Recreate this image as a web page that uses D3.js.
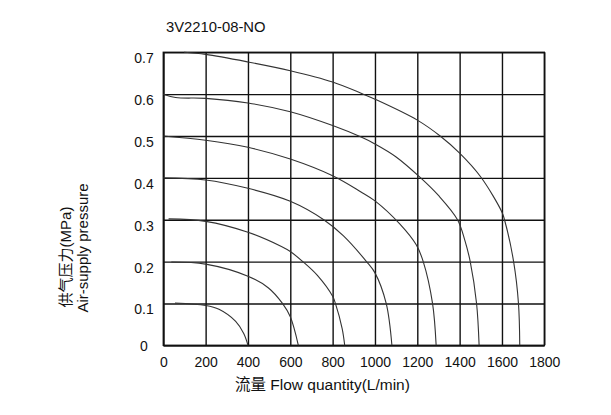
<!DOCTYPE html>
<html>
<head>
<meta charset="utf-8">
<script src="https://cdn.jsdelivr.net/npm/d3@7/dist/d3.min.js"></script>
<style>
  html, body { margin: 0; padding: 0; background: #fff; }
  svg { display: block; font-family: "Liberation Sans", Arial, "Noto Sans CJK SC", sans-serif; }
</style>
</head>
<body>
<svg id="chart" width="611" height="415"></svg>
<script>
// ---- data (flow L/min, supply pressure MPa) ----
const chartTitle = "3V2210-08-NO";
const xTickValues = [0, 200, 400, 600, 800, 1000, 1200, 1400, 1600, 1800];
const yTickValues = [0, 0.1, 0.2, 0.3, 0.4, 0.5, 0.6, 0.7];
const xTitle = "流量 Flow quantity(L/min)";
const yTitleCn = "供气压力(MPa)";
const yTitleEn = "Air-supply pressure";

const curve07 = [[98,0.700],[200,0.695],[400,0.677],[600,0.656],[800,0.629],[940,0.601],[1000,0.588],[1200,0.538],[1308,0.500],[1400,0.459],[1500,0.402],[1600,0.318],[1612,0.300],[1655,0.200],[1678,0.100],[1684,0]];
const curve06 = [[0,0.600],[58,0.592],[200,0.590],[400,0.579],[600,0.558],[800,0.525],[932,0.498],[1000,0.481],[1100,0.450],[1216,0.400],[1300,0.358],[1390,0.300],[1425,0.250],[1450,0.200],[1480,0.100],[1492,0]];
const curve05 = [[0,0.500],[200,0.490],[400,0.473],[600,0.445],[800,0.405],[932,0.367],[1000,0.345],[1117,0.290],[1195,0.240],[1228,0.200],[1272,0.100],[1289,0]];
const curve04 = [[0,0.400],[200,0.395],[400,0.375],[600,0.344],[758,0.300],[850,0.262],[960,0.200],[1000,0.173],[1053,0.100],[1080,0]];
const curve03 = [[25,0.302],[200,0.296],[400,0.270],[558,0.236],[600,0.224],[659,0.200],[728,0.167],[800,0.117],[813,0.100],[845,0.040],[857,0]];
const curve02 = [[38,0.199],[200,0.194],[400,0.165],[497,0.137],[563,0.100],[600,0.068],[638,0]];
const curve01 = [[55,0.101],[200,0.095],[263,0.086],[342,0.057],[380,0.028],[400,0]];
const curves = [curve01, curve02, curve03, curve04, curve05, curve06, curve07];

// ---- layout ----
const mLeft = 163.3, mRight = 544.3, mTop = 52.3, mBottom = 345.3;
const plotW = mRight - mLeft, plotH = mBottom - mTop;

const svg = d3.select("#chart");
svg.append("rect").attr("width", 611).attr("height", 415).attr("fill", "#fff");

const x = d3.scaleLinear().domain([0, 1800]).range([mLeft, mRight]);
const y = d3.scaleLinear().domain([0, 0.7]).range([mBottom, mTop]);

// x grid + labels
const gx = svg.append("g")
  .attr("transform", `translate(0,${mBottom})`)
  .call(d3.axisBottom(x).tickValues(xTickValues).tickSize(-plotH).tickSizeOuter(0).tickPadding(11.8).tickFormat(d3.format("d")));
gx.attr("font-family", null).attr("font-size", null);
gx.selectAll(".tick line").attr("stroke", "#111").attr("stroke-width", 1.4);
gx.select(".domain").attr("stroke", "#111").attr("stroke-width", 1.4);
gx.selectAll(".tick text").attr("fill", "#111").attr("font-size", 14);

// y grid + labels
const gy = svg.append("g")
  .attr("transform", `translate(${mLeft},0)`)
  .call(d3.axisLeft(y).tickValues(yTickValues).tickSize(-plotW).tickSizeOuter(0).tickFormat(d => d === 0 ? "0" : d3.format(".1f")(d)));
gy.attr("font-family", null).attr("font-size", null);
gy.selectAll(".tick line").attr("stroke", "#111").attr("stroke-width", 1.4);
gy.select(".domain").attr("stroke", "#111").attr("stroke-width", 1.4);
gy.selectAll(".tick text")
  .attr("fill", "#111").attr("font-size", 14)
  .attr("text-anchor", "middle")
  .attr("x", 144 - mLeft)
  .attr("dy", d => d === 0 ? "0.36em" : "0.75em");

// frame
svg.append("rect")
  .attr("x", mLeft).attr("y", mTop).attr("width", plotW).attr("height", plotH)
  .attr("fill", "none").attr("stroke", "#111").attr("stroke-width", 1.4);

// curves
const line = d3.line().x(d => x(d[0])).y(d => y(d[1])).curve(d3.curveCatmullRom.alpha(0.5));
svg.append("g").selectAll("path").data(curves).join("path")
  .attr("d", line)
  .attr("fill", "none")
  .attr("stroke", "#333")
  .attr("stroke-width", 1.1);

// titles
svg.append("text").attr("x", 166).attr("y", 32).attr("font-size", 14.8).attr("fill", "#111").text(chartTitle);
svg.append("text").attr("x", 235).attr("y", 390).attr("font-size", 15.5).attr("fill", "#111").text(xTitle);
svg.append("text").attr("transform", "translate(71,257) rotate(-90)").attr("text-anchor", "middle")
  .attr("font-size", 15).attr("fill", "#111").text(yTitleCn);
svg.append("text").attr("transform", "translate(88,248) rotate(-90)").attr("text-anchor", "middle")
  .attr("font-size", 15).attr("fill", "#111").text(yTitleEn);
</script>
</body>
</html>
